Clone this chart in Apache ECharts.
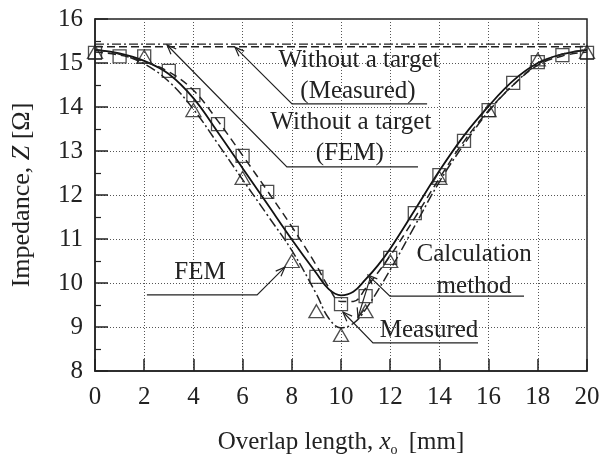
<!DOCTYPE html>
<html>
<head>
<meta charset="utf-8">
<script src="https://cdn.jsdelivr.net/npm/echarts@6/dist/echarts.min.js"></script>
<style>html,body{margin:0;padding:0;background:#fff;}#c{width:603px;height:468px;}</style>
</head>
<body>
<div id="c"></div>
<script>
// ---- data ----
var xTicks = [0, 2, 4, 6, 8, 10, 12, 14, 16, 18, 20];
var yTicks = [8, 9, 10, 11, 12, 13, 14, 15, 16];

// Measured points (squares)
var measX = [0,1,2,3,4,5,6,7,8,9,10,11,12,13,14,15,16,17,18,19,20];
var measY = [15.23,15.15,15.15,14.82,14.27,13.61,12.89,12.07,11.14,10.14,9.52,9.70,10.57,11.59,12.45,13.23,13.93,14.55,15.02,15.18,15.23];

// FEM points (triangles)
var femX = [0,2,4,6,8,9,10,11,12,14,16,18,20];
var femY = [15.25,15.14,13.93,12.39,10.50,9.36,8.82,9.36,10.50,12.39,13.93,15.08,15.25];

// Calculation method curve (solid)
var calcX = [0,1,2,3,4,5,6,7,8,9,9.5,10,10.5,11,11.5,12,13,14,15,16,17,18,19,20];
var calcY = [15.30,15.22,15.05,14.75,14.20,13.42,12.61,11.80,10.99,10.22,9.86,9.72,9.80,10.08,10.40,10.78,11.66,12.55,13.35,14.02,14.60,15.00,15.20,15.30];

// Measured curve (dashed)
var measCurveX = [0,1,2,3,4,5,6,7,8,9,9.5,10,10.5,11,12,13,14,15,16,17,18,19,20];
var measCurveY = [15.25,15.18,15.03,14.80,14.38,13.68,12.90,12.10,11.28,10.40,9.90,9.58,9.58,9.88,10.62,11.48,12.38,13.22,13.92,14.50,14.95,15.16,15.25];

// FEM curve (dash-dot)
var femCurveX = [0,1,2,3,4,5,6,7,8,9,9.5,10,10.5,11,12,13,14,15,16,17,18,19,20];
var femCurveY = [15.30,15.20,14.98,14.58,13.95,13.16,12.35,11.55,10.74,9.75,9.20,8.98,9.08,9.40,10.30,11.30,12.30,13.15,13.90,14.50,14.97,15.20,15.30];

// Without a target levels
var noTargetMeas = 15.37;
var noTargetFEM = 15.43;

function pairs(xs, ys) { return xs.map(function (x, i) { return [x, ys[i]]; }); }

// annotations (data coordinates)
var annotations = [
  { lines: ['Without a target', '(Measured)'], textAt: [[10.73, 15.05], [10.69, 14.36]], path: [[13.5, 14.07], [8.01, 14.07], [5.69, 15.36]] },
  { lines: ['Without a target', '(FEM)'], textAt: [[10.4, 13.64], [10.36, 12.95]], path: [[13.13, 12.64], [7.8, 12.64], [2.93, 15.41]] },
  { lines: ['FEM'], textAt: [[4.27, 10.23]], path: [[2.11, 9.73], [6.59, 9.73], [7.72, 10.36]] },
  { lines: ['Calculation', 'method'], textAt: [[15.41, 10.64], [15.41, 9.93]], path: [[17.44, 9.70], [11.99, 9.70], [11.1, 10.18]] },
  { lines: [], textAt: [], path: [[11.18, 10.1], [10.69, 9.22]] },
  { lines: ['Measured'], textAt: [[13.58, 8.93]], path: [[15.57, 8.64], [11.3, 8.64], [10.08, 9.34]] }
];

var FONT = '"Liberation Serif", "Times New Roman", serif';
var chart = echarts.init(document.getElementById('c'));

var option = {
  animation: false,
  backgroundColor: '#fff',
  grid: { left: 95, right: 16, top: 19, bottom: 97, show: true, borderColor: '#222', borderWidth: 1.5, backgroundColor: 'transparent' },
  xAxis: {
    type: 'value', min: xTicks[0], max: xTicks[xTicks.length - 1], interval: 2,
    name: 'Overlap length, {i|x}{s|o} [mm]', nameLocation: 'middle', nameGap: 56,
    nameTextStyle: { fontFamily: FONT, fontSize: 25, color: '#222',
      rich: { i: { fontFamily: FONT, fontSize: 25, fontStyle: 'italic', color: '#222' },
              s: { fontFamily: FONT, fontSize: 14, color: '#222', padding: [16, 5, 0, 0] } } },
    axisLine: { show: true, onZero: false, lineStyle: { color: '#222', width: 1.5 } },
    axisTick: { show: true, inside: true, length: 12, lineStyle: { color: '#222', width: 1.5 } },
    axisLabel: { fontFamily: FONT, fontSize: 25, color: '#222', margin: 14 },
    splitLine: { show: true, lineStyle: { color: '#555', type: [1, 2], width: 1 } }
  },
  yAxis: {
    type: 'value', min: yTicks[0], max: yTicks[yTicks.length - 1], interval: 1,
    name: 'Impedance, {i|Z} [Ω]', nameLocation: 'middle', nameGap: 60,
    nameTextStyle: { fontFamily: FONT, fontSize: 26, color: '#222',
      rich: { i: { fontFamily: FONT, fontSize: 26, fontStyle: 'italic', color: '#222' } } },
    axisLine: { show: true, onZero: false, lineStyle: { color: '#222', width: 1.5 } },
    axisTick: { show: true, inside: true, length: 13, lineStyle: { color: '#222', width: 1.5 } },
    minorTick: { show: true, splitNumber: 2, length: 6, lineStyle: { color: '#222', width: 1.2 } },
    axisLabel: { fontFamily: FONT, fontSize: 25, color: '#222', margin: 12 },
    splitLine: { show: true, lineStyle: { color: '#555', type: [1, 2], width: 1 } }
  },
  series: [
    { name: 'no target FEM', type: 'line', data: [[0, noTargetFEM], [20, noTargetFEM]], showSymbol: false,
      lineStyle: { color: '#222', width: 1.3, type: [9, 3, 2, 3] }, z: 3 },
    { name: 'no target measured', type: 'line', data: [[0, noTargetMeas], [20, noTargetMeas]], showSymbol: false,
      lineStyle: { color: '#222', width: 1.5, type: [8, 4] }, z: 3 },
    { name: 'Calculation method', type: 'line', data: pairs(calcX, calcY), smooth: 0.4, showSymbol: false,
      lineStyle: { color: '#111', width: 1.8, type: 'solid' }, z: 4 },
    { name: 'Measured curve', type: 'line', data: pairs(measCurveX, measCurveY), smooth: 0.4, showSymbol: false,
      lineStyle: { color: '#222', width: 1.5, type: [8, 5] }, z: 4 },
    { name: 'FEM curve', type: 'line', data: pairs(femCurveX, femCurveY), smooth: 0.4, showSymbol: false,
      lineStyle: { color: '#222', width: 1.5, type: [10, 3, 2, 3] }, z: 4 },
    { name: 'Measured', type: 'scatter', data: pairs(measX, measY), symbol: 'rect', symbolSize: 13,
      itemStyle: { color: 'rgba(255,255,255,0)', borderColor: '#222', borderWidth: 1.3 }, z: 5 },
    { name: 'FEM', type: 'scatter', data: pairs(femX, femY), symbol: 'triangle', symbolSize: [15, 13],
      itemStyle: { color: 'rgba(255,255,255,0)', borderColor: '#222', borderWidth: 1.3 }, z: 5 }
  ]
};
chart.setOption(option);

// annotations drawn in pixel space converted from data coordinates
var g = [];
annotations.forEach(function (a) {
  var pts = a.path.map(function (p) { return chart.convertToPixel({ gridIndex: 0 }, p); });
  g.push({ type: 'polyline', shape: { points: pts }, style: { stroke: '#222', lineWidth: 1.2, fill: null }, z: 10 });
  var tip = pts[pts.length - 1], prev = pts[pts.length - 2];
  var ang = Math.atan2(tip[1] - prev[1], tip[0] - prev[0]);
  var L = 10, w = 0.38;
  var h1 = [tip[0] - L * Math.cos(ang - w), tip[1] - L * Math.sin(ang - w)];
  var h2 = [tip[0] - L * Math.cos(ang + w), tip[1] - L * Math.sin(ang + w)];
  g.push({ type: 'polyline', shape: { points: [h1, tip, h2] }, style: { stroke: '#222', lineWidth: 1.2, fill: null }, z: 10 });
  a.lines.forEach(function (t, i) {
    var p = chart.convertToPixel({ gridIndex: 0 }, a.textAt[i]);
    g.push({ type: 'text', x: p[0], y: p[1], z: 11,
      style: { text: t, font: '25px ' + FONT, fill: '#222', align: 'center', verticalAlign: 'middle',
               backgroundColor: 'transparent' } });
  });
});
chart.setOption({ graphic: g });
</script>
</body>
</html>
